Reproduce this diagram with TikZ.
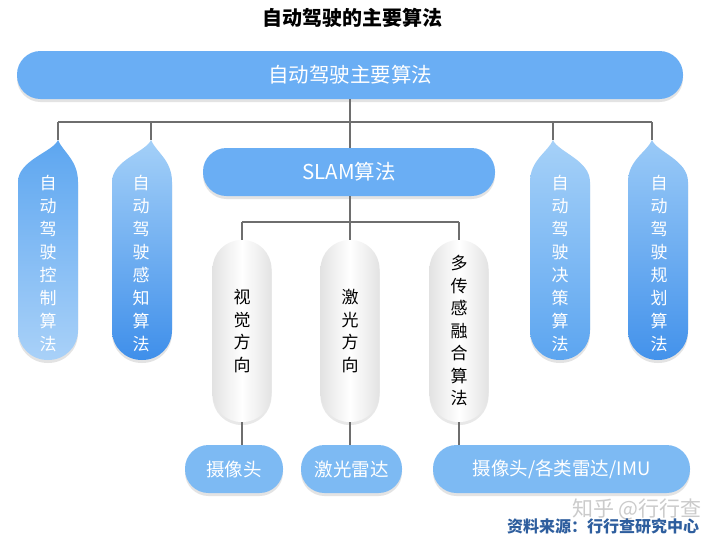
\documentclass[tikz,border=0pt]{standalone}
\usepackage{fontspec}
\setmainfont{Noto Sans CJK SC}
\usetikzlibrary{shadows}
\definecolor{barblue}{HTML}{6AAEF4}
\definecolor{pillblue}{HTML}{7DBAF3}
\definecolor{linegray}{HTML}{6E6E6E}
\definecolor{srcblue}{HTML}{2E5E9E}
\definecolor{wmgray}{HTML}{CBCBCB}
\definecolor{daT}{HTML}{5DA6F0}\definecolor{daB}{HTML}{A9D1F8}
\definecolor{dbT}{HTML}{A4D0F8}\definecolor{dbB}{HTML}{3F8FEA}
\definecolor{dcT}{HTML}{A6D1F8}\definecolor{dcB}{HTML}{5CA5F0}
\definecolor{ddT}{HTML}{9ACAF7}\definecolor{ddB}{HTML}{4392EB}
\newcommand\mydrop[4]{%
  \path[top color=#3,bottom color=#4,
        drop shadow={shadow xshift=0pt,shadow yshift=-3pt,opacity=0.22,fill=gray}]
    (#1,140) .. controls ({#1-5},152) and ({#2-30},160) .. ({#2-30},182)
    -- ({#2-30},330) .. controls ({#2-30},347) and ({#2-17},360) .. (#2,360)
    .. controls ({#2+17},360) and ({#2+30},347) .. ({#2+30},330)
    -- ({#2+30},182) .. controls ({#2+30},160) and ({#1+5},152) .. (#1,140) -- cycle;}
\begin{document}
\begin{tikzpicture}[x=1pt,y=-1pt,
  conn/.style={draw=linegray,line width=1.1pt},
  bar/.style={fill=barblue,text=white,rounded corners=23.5pt,minimum height=48pt,
      inner sep=0pt,font=\fontsize{20.5}{24}\selectfont,
      drop shadow={shadow xshift=0pt,shadow yshift=-3pt,opacity=0.22,fill=gray}},
  pillb/.style={fill=pillblue,text=white,rounded corners=23.5pt,minimum height=48pt,
      inner sep=0pt,font=\fontsize{18.5}{22}\selectfont,
      drop shadow={shadow xshift=0pt,shadow yshift=-3pt,opacity=0.22,fill=gray}},
  grayp/.style={left color=gray!22,right color=gray!22,middle color=white,
      rounded corners=29pt,minimum width=59pt,minimum height=182pt,inner sep=0pt,
      align=center,font=\fontsize{17}{22.5}\selectfont,text=black,
      drop shadow={shadow xshift=0pt,shadow yshift=-3pt,opacity=0.18,fill=gray}},
  droptext/.style={align=center,text=white,font=\fontsize{17}{23}\selectfont,inner sep=0pt}
]
\useasboundingbox[fill=white] (0,0) rectangle (720,544);

% title
\node[font=\fontsize{20}{24}\selectfont\bfseries] (title) at (352,18) {自动驾驶的主要算法};

% top bar
\node[bar,minimum width=666pt] (top) at (350,75) {自动驾驶主要算法};

% SLAM bar
\node[bar,minimum width=292pt] (slam) at (349,172) {SLAM算法};

% droplets
\mydrop{58}{48}{daT}{daB}
\mydrop{151}{142}{dbT}{dbB}
\mydrop{553}{560}{dcT}{dcB}
\mydrop{652}{658}{ddT}{ddB}
\coordinate (t1) at (58,140);
\coordinate (t2) at (151,140);
\coordinate (t3) at (553,140);
\coordinate (t4) at (652,140);
\node[droptext] (d1) at (48,264) {自\\动\\驾\\驶\\控\\制\\算\\法};
\node[droptext] (d2) at (141,264) {自\\动\\驾\\驶\\感\\知\\算\\法};
\node[droptext] (d3) at (560,264) {自\\动\\驾\\驶\\决\\策\\算\\法};
\node[droptext] (d4) at (659,264) {自\\动\\驾\\驶\\规\\划\\算\\法};

% gray pills
\node[grayp] (g1) at (242,331) {视\\觉\\方\\向};
\node[grayp] (g2) at (350,331) {激\\光\\方\\向};
\node[grayp] (g3) at (459,331) {多\\传\\感\\融\\合\\算\\法};

% bottom pills
\node[pillb,minimum width=98pt] (b1) at (234,469) {摄像头};
\node[pillb,minimum width=101pt] (b2) at (351.5,469) {激光雷达};
\node[pillb,minimum width=257pt] (b3) at (561.5,469) {摄像头/各类雷达/IMU};

% connectors level 1
\coordinate (j1) at (58,122);
\coordinate (j2) at (151,122);
\coordinate (j3) at (553,122);
\coordinate (j4) at (652,122);
\draw[conn] (j1) -- (j4);
\draw[conn] (j1) -- (t1);
\draw[conn] (j2) -- (t2);
\draw[conn] (j3) -- (t3);
\draw[conn] (j4) -- (t4);
\draw[conn] (top.south) -- (top.south |- slam.north);

% connectors level 2
\coordinate (k0) at (350,222);
\draw[conn] (g2.north |- slam.south) -- (g2.north);
\draw[conn] (g1.north |- k0) -- (g3.north |- k0);
\draw[conn] (g1.north |- k0) -- (g1.north);
\draw[conn] (g3.north |- k0) -- (g3.north);

% connectors level 3
\draw[conn] (g1.south) -- (g1.south |- b1.north);
\draw[conn] (g2.south) -- (g2.south |- b2.north);
\draw[conn] (g3.south) -- (g3.south |- b3.north);

% watermark and source
\node[text=wmgray,font=\fontsize{21}{24}\selectfont] (wm) at (637,509) {知乎 @行行查};
\node[text=srcblue,font=\fontsize{16}{20}\selectfont\bfseries] (src) at (603,526) {资料来源：行行查研究中心};
\end{tikzpicture}
\end{document}
